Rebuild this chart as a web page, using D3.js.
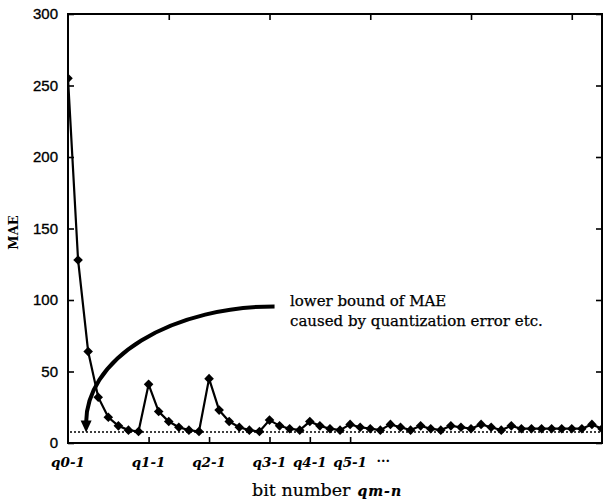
<!DOCTYPE html>
<html>
<head>
<meta charset="utf-8">
<script src="https://cdn.jsdelivr.net/npm/d3@7/dist/d3.min.js"></script>
<style>
  html, body { margin: 0; padding: 0; background: #fff; }
  svg { display: block; }
</style>
</head>
<body>
<svg id="chart" width="605" height="504"></svg>
<script>
// ---- data ----
const maeValues = [
  255, 128, 64, 32, 18, 12, 9, 8,
  41, 22, 15, 11, 9, 8,
  45, 23, 15, 11, 9, 8,
  16, 12, 10, 9,
  15, 12, 10, 9,
  13, 11, 10, 9,
  13, 11, 9, 12, 10, 9, 12, 11, 10, 13, 11, 9, 12, 10,
  10, 10, 10, 10, 10, 10, 13, 10
];
const groupLabels = ["q0-1", "q1-1", "q2-1", "q3-1", "q4-1", "q5-1"];
const groupIndex = [0, 8, 14, 20, 24, 28];
const yTicks = [0, 50, 100, 150, 200, 250, 300];
const topTicks = [10, 20, 30, 40, 50];
const lowerBound = 8;
const annotationLines = ["lower bound of MAE", "caused by quantization error etc."];

// ---- layout ----
const svg = d3.select("#chart");
const L = 68, R = 602, T = 14, B = 443;
const x = d3.scaleLinear().domain([0, maeValues.length - 1]).range([L, R]);
const y = d3.scaleLinear().domain([0, 300]).range([B, T]);

const serif = "'DejaVu Serif', 'Liberation Serif', serif";
const sans = "'Liberation Sans', Arial, sans-serif";

// clip
svg.append("clipPath").attr("id", "clip")
  .append("rect").attr("x", L).attr("y", T - 6).attr("width", R - L).attr("height", B - T + 6);

// axes (ticks inward)
const gL = svg.append("g").attr("transform", `translate(${L},0)`)
  .call(d3.axisRight(y).tickValues(yTicks).tickSize(6).tickFormat(""));
const gR = svg.append("g").attr("transform", `translate(${R},0)`)
  .call(d3.axisLeft(y).tickValues(yTicks).tickSize(6).tickFormat(""));
const gT = svg.append("g").attr("transform", `translate(0,${T})`)
  .call(d3.axisBottom(x).tickValues(topTicks).tickSize(6).tickFormat(""));
const gB = svg.append("g").attr("transform", `translate(0,${B})`)
  .call(d3.axisTop(x).tickValues(groupIndex.slice(1)).tickSize(6).tickFormat(""));
[gL, gR, gT, gB].forEach(g => {
  g.select(".domain").remove();
  g.selectAll("line").attr("stroke", "#000").attr("stroke-width", 1.6);
});

// frame
svg.append("rect").attr("x", L).attr("y", T).attr("width", R - L).attr("height", B - T)
  .attr("fill", "none").attr("stroke", "#000").attr("stroke-width", 2);

// y tick labels
svg.append("g").selectAll("text").data(yTicks).join("text")
  .attr("x", L - 10).attr("y", d => y(d)).attr("dy", "0.35em")
  .attr("text-anchor", "end").attr("font-family", sans).attr("font-size", 15)
  .attr("stroke", "#000").attr("stroke-width", 0.35)
  .text(d => d);

// y title
svg.append("text").attr("transform", `translate(18,${(T + B) / 2 + 4}) rotate(-90)`)
  .attr("text-anchor", "middle").attr("font-family", serif).attr("font-weight", "bold")
  .attr("font-size", 13).text("MAE");

// x group labels
svg.append("g").selectAll("text").data(groupLabels).join("text")
  .attr("x", (d, i) => x(groupIndex[i])).attr("y", 467)
  .attr("text-anchor", "middle").attr("font-family", serif).attr("font-weight", "bold")
  .attr("font-style", "italic").attr("font-size", 13.5).text(d => d);
svg.append("text").attr("x", x(31) + 3).attr("y", 465).attr("text-anchor", "middle")
  .attr("font-family", serif).attr("font-weight", "bold").attr("font-size", 13).text("\u00b7\u00b7\u00b7");

// x title
const xt = svg.append("text").attr("x", 252).attr("y", 496).attr("font-family", serif).attr("font-size", 17.5)
  .attr("stroke", "#000").attr("stroke-width", 0.2);
xt.append("tspan").text("bit number");
xt.append("tspan").attr("font-weight", "bold").attr("font-style", "italic").attr("font-size", 14)
  .attr("dx", 7).attr("letter-spacing", 1).text("qm-n");

// lower bound dotted line
svg.append("line").attr("x1", L + 2).attr("x2", R).attr("y1", y(lowerBound) + 0.5).attr("y2", y(lowerBound) + 0.5)
  .attr("stroke", "#000").attr("stroke-width", 1.5).attr("stroke-dasharray", "2,2");

// series line
const plot = svg.append("g").attr("clip-path", "url(#clip)");
plot.append("path").datum(maeValues)
  .attr("fill", "none").attr("stroke", "#000").attr("stroke-width", 2.2)
  .attr("d", d3.line().x((d, i) => x(i)).y(d => y(d)));
plot.selectAll("path.pt").data(maeValues).join("path").attr("class", "pt")
  .attr("transform", (d, i) => `translate(${x(i)},${y(d)}) rotate(45)`)
  .attr("d", d3.symbol().type(d3.symbolSquare).size(46)).attr("fill", "#000");

// annotation arrow (elliptical arc)
const sx = x(20.5), sy = y(95.5);
const tx = x(1.8), ty = y(lowerBound) + 1;
const cy = ty - 10;
const rx = sx - tx, ry = cy - sy;
svg.append("path")
  .attr("d", `M${sx},${sy} A${rx},${ry} 0 0 0 ${tx},${cy}`)
  .attr("fill", "none").attr("stroke", "#000").attr("stroke-width", 4);
svg.append("path")
  .attr("d", `M${tx - 5.5},${cy - 2} L${tx + 5.5},${cy - 2} L${tx},${ty} Z`)
  .attr("fill", "#000");

// annotation text
svg.append("g").selectAll("text").data(annotationLines).join("text")
  .attr("x", 290).attr("y", (d, i) => 306 + i * 20)
  .attr("font-family", serif).attr("font-size", 15)
  .attr("stroke", "#000").attr("stroke-width", 0.25)
  .text(d => d);
</script>
</body>
</html>
